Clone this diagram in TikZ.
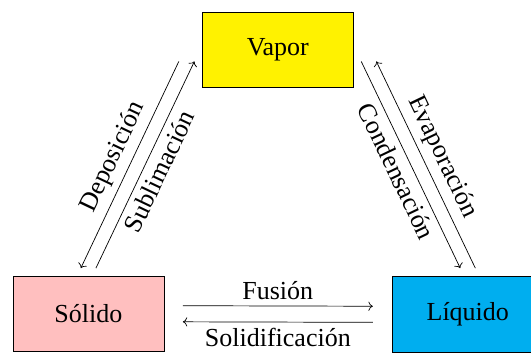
\documentclass[tikz,border=0pt]{standalone}
\usepackage{fontspec}
\setmainfont{Liberation Serif}
\usepackage{xcolor}
\usepackage{tikz}
\usetikzlibrary{arrows.meta, positioning, calc}
\definecolor{phVapor}{HTML}{FFF200}
\definecolor{phSolid}{HTML}{FFBFBF}
\definecolor{phLiquid}{HTML}{00AEEF}

\begin{document}
\begin{tikzpicture}[
  font=\fontsize{14.7}{17}\selectfont,
  phase/.style={draw=black, minimum width=3cm, minimum height=1.5cm, inner sep=0pt},
  trans/.style={->},
  lbl/.style={midway, sloped},
]
\useasboundingbox (0,0) rectangle (10.55,7.03);
\node[phase, fill=phVapor] (vapor) at (5.52,6.04) {Vapor};
\node[phase, fill=phSolid, below left=3.73cm and 0.75cm of vapor] (solido) {Sólido};
\node[phase, fill=phLiquid, below right=3.74cm and 0.76cm of vapor] (liquido) {Líquido};

\draw[trans] ([xshift=-0.46cm,yshift=-0.23cm]vapor.west) -- node[lbl, above]{Deposición} ([xshift=-0.15cm,yshift=0.15cm]solido.north);
\draw[trans] ([xshift=0.15cm,yshift=0.15cm]solido.north) -- node[lbl, below]{Sublimación} ([xshift=-0.15cm,yshift=-0.23cm]vapor.west);
\draw[trans] ([xshift=0.15cm,yshift=-0.23cm]vapor.east) -- node[lbl, below]{Condensación} ([xshift=-0.15cm,yshift=0.16cm]liquido.north);
\draw[trans] ([xshift=0.15cm,yshift=0.16cm]liquido.north) -- node[lbl, above]{Evaporación} ([xshift=0.45cm,yshift=-0.23cm]vapor.east);
\draw[trans] ([xshift=0.37cm,yshift=0.16cm]solido.east) -- node[above]{Fusión} ([xshift=-0.38cm,yshift=0.16cm]liquido.west);
\draw[trans] ([xshift=-0.38cm,yshift=-0.16cm]liquido.west) -- node[below]{Solidificación} ([xshift=0.37cm,yshift=-0.16cm]solido.east);
\end{tikzpicture}
\end{document}
